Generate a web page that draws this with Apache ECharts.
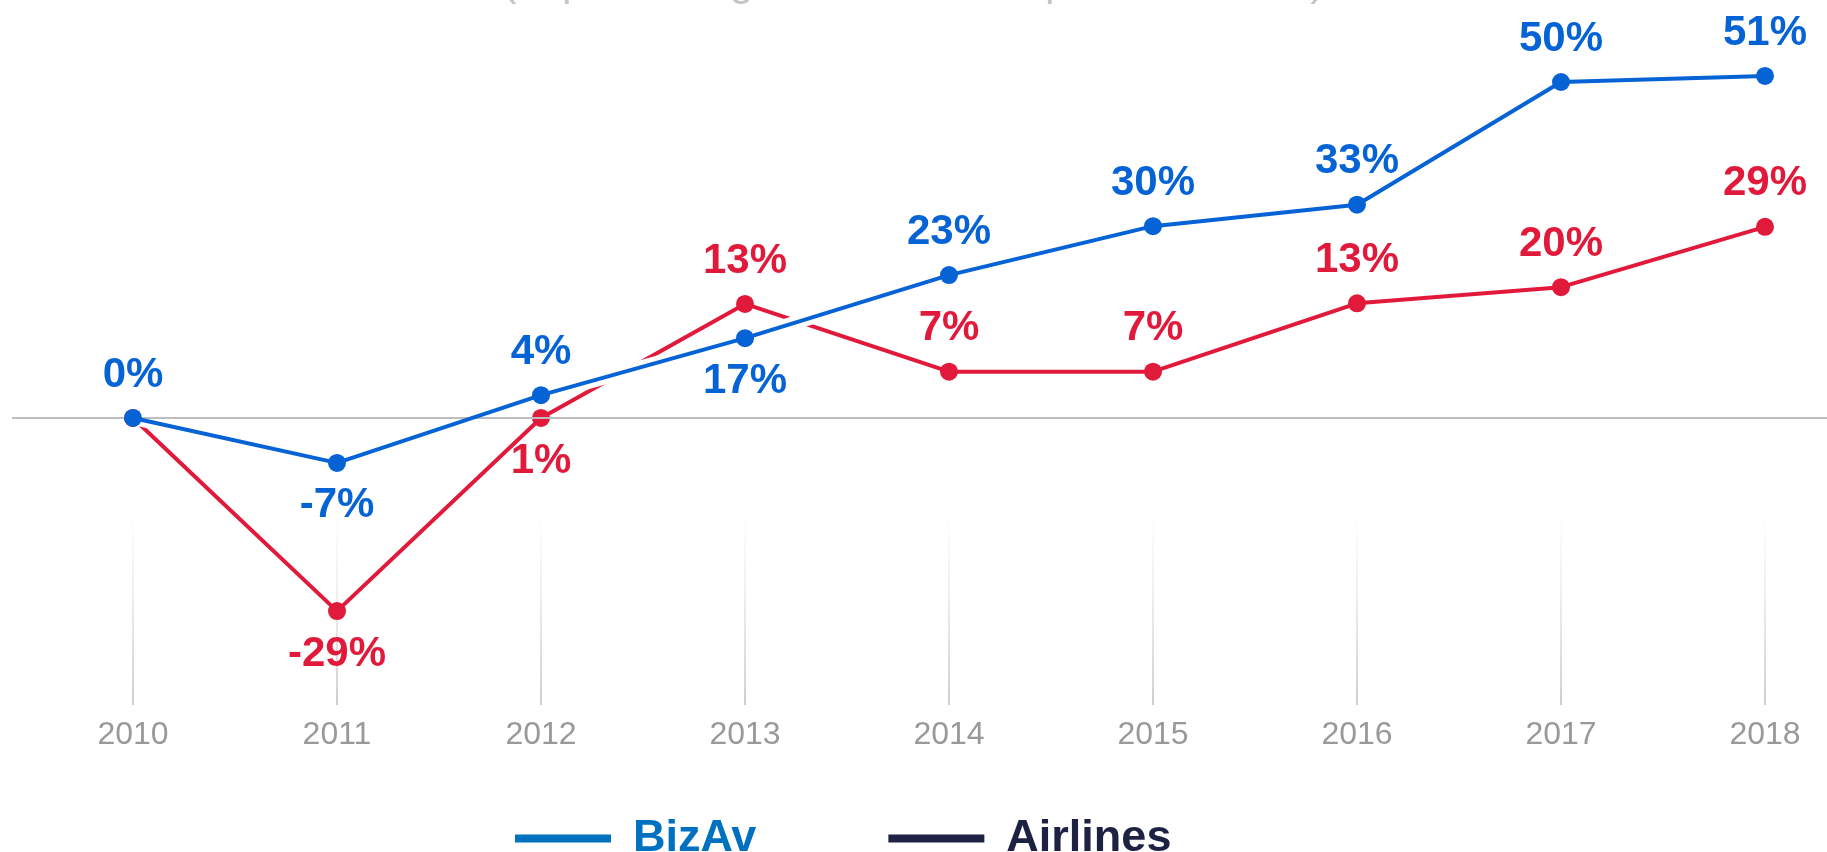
<!DOCTYPE html>
<html>
<head>
<meta charset="utf-8">
<script src="https://cdn.jsdelivr.net/npm/echarts@6/dist/echarts.min.js"></script>
<style>
  body{ margin:0; background:#fff; }
  #main{ width:1827px; height:852px; }
</style>
</head>
<body>
<div id="main"></div>
<script>
// data (point heights) and the printed labels
var years = ['2010', '2011', '2012', '2013', '2014', '2015', '2016', '2017', '2018'];
var bizAv = [0, -6.7, 3.4, 11.9, 21.3, 28.6, 31.8, 50.1, 51];
var airlines = [0, -28.8, 0, 17.0, 6.9, 6.9, 17.1, 19.5, 28.5];
var bizAvLabels = ['0%', '-7%', '4%', '17%', '23%', '30%', '33%', '50%', '51%'];
var airlinesLabels = ['', '-29%', '1%', '13%', '7%', '7%', '13%', '20%', '29%'];

var BLUE = '#0563d5';
var RED = '#e11a3b';
var FONT = '"Liberation Sans", Arial, sans-serif';

// which labels sit under their dot
var blueBelow = [1, 3];
var redBelow = [1, 2];

function points(values, below) {
  return values.map(function (v, i) {
    return {
      value: v,
      label: { position: below.indexOf(i) >= 0 ? 'bottom' : 'top' }
    };
  });
}

var labelStyle = function (color, texts) {
  return {
    show: true,
    color: color,
    fontFamily: FONT,
    fontWeight: 'bold',
    fontSize: 42,
    distance: 13,
    formatter: function (p) { return texts[p.dataIndex]; }
  };
};

var dom = document.getElementById('main');
var myChart = echarts.init(dom, null, { renderer: 'canvas' });

var option = {
  animation: false,
  title: {
    text: '(in percentage increase compared to 2010)',
    left: 'center',
    top: -38,
    padding: 0,
    textStyle: { color: '#c4c4c4', fontFamily: FONT, fontWeight: 'normal', fontSize: 43 }
  },
  legend: {
    left: 510,
    top: 811,
    icon: 'rect',
    itemWidth: 96,
    itemHeight: 8,
    itemGap: 132,
    selectedMode: false,
    textStyle: { fontFamily: FONT, fontWeight: 'bold', fontSize: 45, padding: [0, 0, 0, 17] },
    data: [
      { name: 'BizAv', itemStyle: { color: '#0070c0' }, textStyle: { color: '#0070c0' } },
      { name: 'Airlines', itemStyle: { color: '#1e2242' }, textStyle: { color: '#1e2242' } }
    ]
  },
  grid: [
    { left: 133, right: 62, top: 15.6, bottom: 165.8 },
    { left: 133, right: 62, top: 512, bottom: 147 }
  ],
  xAxis: [
    {
      type: 'category', gridIndex: 0, data: years, boundaryGap: false,
      show: false
    },
    {
      type: 'category', gridIndex: 1, data: years, boundaryGap: false,
      axisLine: { show: false },
      axisTick: { show: false },
      axisLabel: { color: '#999', fontFamily: FONT, fontSize: 32, margin: 14 },
      splitLine: {
        show: true,
        lineStyle: {
          width: 2,
          color: new echarts.graphic.LinearGradient(0, 0, 0, 1, [
            { offset: 0, color: 'rgba(225,225,225,0)' },
            { offset: 1, color: 'rgba(205,205,205,1)' }
          ])
        }
      }
    }
  ],
  yAxis: [
    { type: 'value', gridIndex: 0, min: -40, max: 60, show: false, splitLine: { show: false } },
    { type: 'value', gridIndex: 1, min: 0, max: 1, show: false, splitLine: { show: false } }
  ],
  series: [
    {
      name: 'Airlines',
      type: 'line',
      data: points(airlines, redBelow),
      symbol: 'circle',
      symbolSize: 18,
      z: 3,
      itemStyle: { color: RED },
      lineStyle: { color: RED, width: 4 },
      label: labelStyle(RED, airlinesLabels)
    },
    {
      // white halo under the blue line, it cuts the red line where they cross
      name: 'halo',
      type: 'line',
      data: bizAv,
      symbol: 'none',
      silent: true,
      z: 4,
      lineStyle: { color: '#fff', width: 14 }
    },
    {
      name: 'BizAv',
      type: 'line',
      data: points(bizAv, blueBelow),
      symbol: 'circle',
      symbolSize: 18,
      z: 6,
      itemStyle: { color: BLUE },
      lineStyle: { color: BLUE, width: 4 },
      label: labelStyle(BLUE, bizAvLabels)
    }
  ]
};

myChart.setOption(option);

// zero line runs across the whole width, above the halo but under the blue line
var y0 = myChart.convertToPixel({ yAxisIndex: 0 }, 0);
myChart.setOption({
  graphic: [{
    type: 'line',
    z: 5,
    silent: true,
    shape: { x1: 12, y1: y0, x2: 1827, y2: y0 },
    style: { stroke: '#bdbdbd', lineWidth: 2 }
  }]
});
</script>
</body>
</html>
